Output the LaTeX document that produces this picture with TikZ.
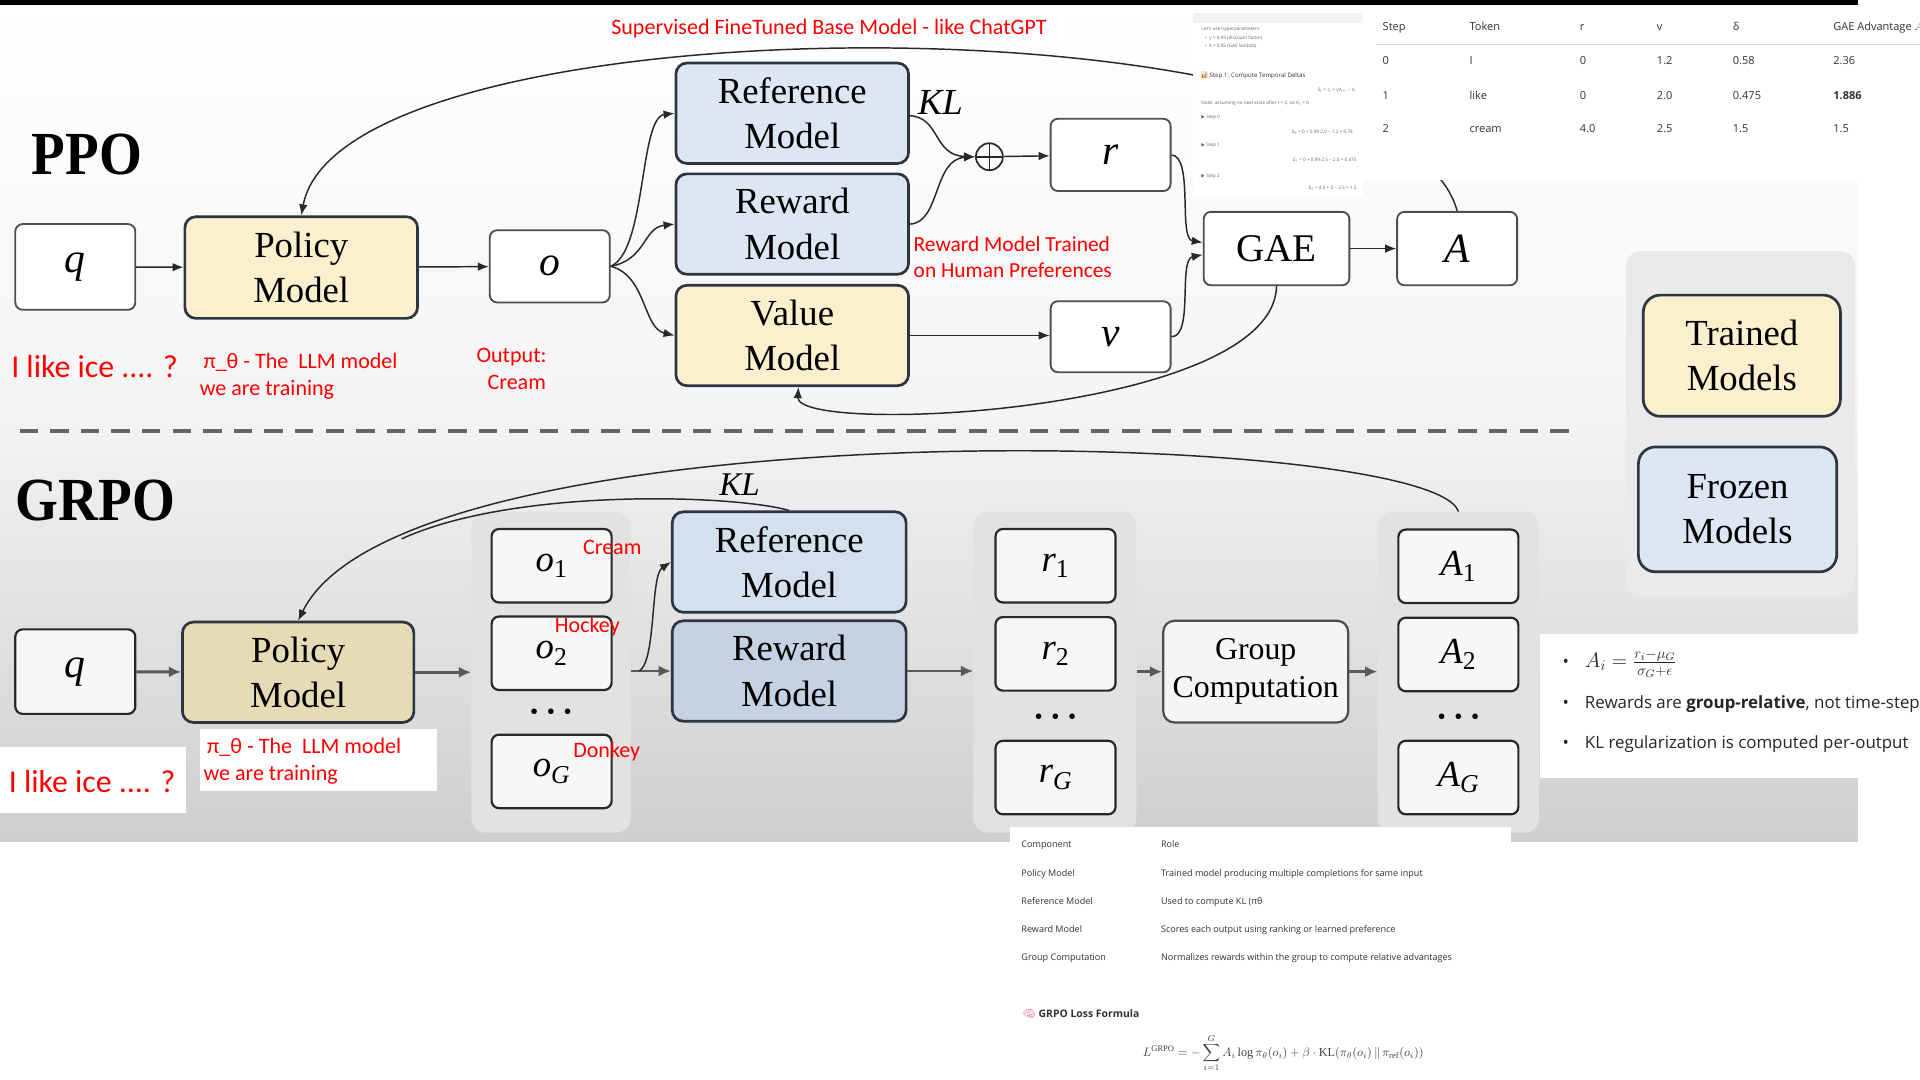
\documentclass[tikz,border=0pt]{standalone}
\usepackage{fontspec}
\usepackage{amsmath,amssymb}
\usepackage{xcolor}
\usetikzlibrary{arrows.meta}
\setmainfont{Liberation Serif}
\newfontfamily\titlefont[FakeStretch=0.9]{Liberation Serif}
\newfontfamily\notefont{Carlito}
\newfontfamily\uifont{Open Sans}
\newfontfamily\symfont{DejaVu Sans}
\newfontfamily\emojifont{Noto Emoji}

\definecolor{tanfill}{RGB}{250,240,206}
\definecolor{tandark}{RGB}{229,219,181}
\definecolor{bluefill}{RGB}{221,231,243}
\definecolor{bluemid}{RGB}{213,224,238}
\definecolor{bluedark}{RGB}{196,210,228}
\definecolor{boxline}{RGB}{45,52,66}
\definecolor{plainline}{RGB}{78,78,78}
\definecolor{arrowline}{RGB}{40,40,40}
\definecolor{colgrey}{RGB}{226,226,226}
\definecolor{legendgrey}{RGB}{234,234,234}
\definecolor{notered}{RGB}{255,0,0}
\definecolor{uitext}{RGB}{50,50,50}
\definecolor{brainpink}{RGB}{232,130,150}

\newcommand\varsub[2]{#1\textsubscript{#2}}

\tikzset{
  model/.style={rounded corners=9pt, draw=boxline, line width=2.2pt, minimum width=190pt, minimum height=82pt, inner sep=0pt, align=center, font=\fontsize{30}{37}\selectfont},
  plainbox/.style={rounded corners=6pt, draw=plainline, line width=1.5pt, fill=white, minimum width=98pt, minimum height=60pt, inner sep=0pt, font=\fontsize{34}{34}\selectfont\itshape},
  smallbox/.style={plainbox, draw=arrowline, line width=1.8pt, fill=black!3, font=\fontsize{30}{30}\selectfont\itshape},
  colbg/.style={rounded corners=12pt, fill=colgrey, minimum width=130pt, minimum height=262pt},
  conn/.style={draw=arrowline, line width=1.2pt, -{Latex[length=9pt,width=7pt]}},
  thickconn/.style={draw=black!65, line width=2.4pt, -{Latex[length=10pt,width=9pt]}},
  note/.style={text=notered, font=\notefont\fontsize{18}{22}\selectfont, inner sep=0pt, align=left, anchor=west},
  tinylabel/.style={text=black!60, font=\uifont\fontsize{3.8}{4.2}\selectfont, inner sep=0pt, anchor=west},
  dotrow/.style={inner sep=0pt, font=\fontsize{19}{19}\selectfont},
  bulletline/.style={anchor=west, inner sep=0pt, text=black!85, font=\uifont\fontsize{13.8}{16}\selectfont},
  sumsign/.style={circle, draw=arrowline, line width=1.4pt, minimum size=22pt, inner sep=0pt,
    path picture={\draw[arrowline, line width=1.4pt] (path picture bounding box.north) -- (path picture bounding box.south) (path picture bounding box.west) -- (path picture bounding box.east);}},
}

\begin{document}
\begin{tikzpicture}[x=1pt,y=-1pt]
\useasboundingbox (0,0) rectangle (1568,882);
\fill[white] (0,0) rectangle (1568,882);
\shade[top color=white, bottom color=black!4] (0,0) rectangle (1517,330);
\shade[top color=black!4, bottom color=black!19] (0,330) rectangle (1517,687);
\fill[black] (0,0) rectangle (1517,4);

\node[rounded corners=12pt, fill=legendgrey, minimum width=187pt, minimum height=282pt] (legendbg) at (1421.5,346) {};
\node[model, fill=tanfill, minimum width=161pt, minimum height=99pt, rounded corners=14pt] (trainedkey) at (1422.5,290.5) {Trained\\Models};
\node[model, fill=bluefill, minimum width=162pt, minimum height=102pt, rounded corners=14pt] (frozenkey) at (1419,416) {Frozen\\Models};

\node[colbg] (ocol) at (450,549) {};
\node[colbg, minimum width=133pt] (rcol) at (861.5,549) {};
\node[colbg, minimum width=132pt] (acol) at (1191,549) {};

\node[font=\titlefont\bfseries\fontsize{50}{50}\selectfont, inner sep=0pt] (ppotitle) at (71,126) {PPO};
\node[plainbox, minimum height=70pt] (q) at (61.5,218) {q};
\node[model, fill=tanfill, minimum height=83pt] (policy) at (246,218.5) {Policy\\Model};
\node[plainbox, minimum height=59pt] (o) at (449,217.5) {o};
\node[model, fill=bluefill] (ref) at (647,92.5) {Reference\\Model};
\node[model, fill=bluefill] (rew) at (647,183) {Reward\\Model};
\node[model, fill=tanfill] (val) at (647,274) {Value\\Model};
\node[font=\fontsize{30}{30}\selectfont\itshape, inner sep=0pt] (kl) at (768,84) {KL};
\node[sumsign] (plus) at (808,128) {};
\node[plainbox, minimum height=59pt] (r) at (907,126.5) {r};
\node[plainbox, minimum height=58pt] (v) at (907,275) {v};
\node[plainbox, minimum width=119pt, font=\fontsize{32}{32}\selectfont] (gae) at (1042.5,203) {GAE};
\node[plainbox] (adv) at (1190,203) {A};

\draw[conn] (q) -- (policy);
\draw[conn] (policy) -- (o);
\draw[conn] (o.east) .. controls (528,205) and (522,96) .. (ref.west);
\draw[conn] (o.east) .. controls (528,212) and (525,186) .. (rew.west);
\draw[conn] (o.east) .. controls (528,225) and (525,268) .. (val.west);
\draw[conn] ([yshift=-2pt]ref.east) .. controls (768,96) and (762,127) .. (plus.west);
\draw[conn] (rew.east) .. controls (768,182) and (762,130) .. (plus.west);
\draw[conn] (plus) -- (r);
\draw[conn] (val.east) -- (val.east -| v.west);
\draw[conn] (r.east) .. controls (975,128) and (962,195) .. ([yshift=5pt]gae.west);
\draw[conn] (v.east) .. controls (975,275) and (962,212) .. ([yshift=-5pt]gae.west);
\draw[conn] (gae) -- (adv);
\draw[conn] (gae.south) .. controls (1040,338) and (650,356) .. ([xshift=5pt]val.south);
\draw[conn] (adv.north) .. controls (1142,-5) and (280,-4) .. (policy.north);

\draw[black!60, line width=3.5pt, dash pattern=on 15pt off 10pt] (16,352) -- (1284,352);

\node[font=\titlefont\bfseries\fontsize{50}{50}\selectfont, inner sep=0pt] (grpotitle) at (78,409) {GRPO};
\node[smallbox, minimum height=69pt, font=\fontsize{34}{34}\selectfont\itshape] (q2) at (61.5,548.5) {q};
\node[model, fill=tandark, minimum width=189pt] (policy2) at (243.5,549) {Policy\\Model};
\node[smallbox] (o1) at (450.5,462) {\varsub{o}{\upshape 1}};
\node[smallbox] (o2) at (450.5,533.5) {\varsub{o}{\upshape 2}};
\node[dotrow] (odots) at (450,583) {\textbullet\hspace{7pt}\textbullet\hspace{7pt}\textbullet};
\node[smallbox] (oG) at (450.5,630) {\varsub{o}{G}};
\node[model, fill=bluemid, minimum width=191pt] (ref2) at (644.5,459) {Reference\\Model};
\node[model, fill=bluedark, minimum width=191pt] (rew2) at (644.5,548) {Reward\\Model};
\node[smallbox] (r1) at (862,462) {\varsub{r}{\upshape 1}};
\node[smallbox] (r2) at (862,534) {\varsub{r}{\upshape 2}};
\node[dotrow] (rdots) at (862,587) {\textbullet\hspace{7pt}\textbullet\hspace{7pt}\textbullet};
\node[smallbox] (rG) at (862,635) {\varsub{r}{G}};
\node[model, fill=black!4, draw=plainline, line width=1.8pt, minimum width=151pt, minimum height=83pt, font=\fontsize{26}{31}\selectfont] (group) at (1025.5,548.5) {Group\\Computation};
\node[smallbox] (a1) at (1191,462.5) {\varsub{A}{\upshape 1}};
\node[smallbox] (a2) at (1191,534.5) {\varsub{A}{\upshape 2}};
\node[dotrow] (adots) at (1191,587) {\textbullet\hspace{7pt}\textbullet\hspace{7pt}\textbullet};
\node[smallbox] (aG) at (1191,635) {\varsub{A}{G}};
\node[font=\fontsize{27}{27}\selectfont\itshape, inner sep=0pt] (kl2) at (604,396) {KL};
\coordinate (osplit) at (522,548);

\draw[thickconn] (q2) -- (policy2);
\draw[thickconn] (policy2.east) -- (policy2.east -| ocol.west);
\draw[thickconn] (ocol.east |- rew2.west) -- (rew2.west);
\draw[conn] (osplit) .. controls (536,540) and (531,470) .. (ref2.west);
\draw[thickconn] (rew2.east) -- (rew2.east -| rcol.west);
\draw[thickconn] (rcol.east |- group.west) -- (group.west);
\draw[thickconn] (group.east) -- (group.east -| acol.west);
\draw[conn] (acol.north) .. controls (1170,350) and (330,330) .. (policy2.north) coordinate[pos=0.85] (klmerge);
\draw[draw=arrowline, line width=1.2pt] (ref2.north) .. controls (600,404) and (420,398) .. (klmerge);

\fill[white] (974,17) rectangle (1113,161);
\fill[black!5] (974,11) rectangle (1113,19);
\fill[white] (1113,5) rectangle (1568,147);

\node[tinylabel] (hyp) at (981,24) {Let's use hyperparameters:};
\node[tinylabel] (gam) at (984,31) {•\ \ γ = 0.99 (discount factor)};
\node[tinylabel] (lam) at (984,38) {•\ \ λ = 0.95 (GAE lambda)};
\node[tinylabel, text=black!80, font=\uifont\fontsize{5}{6}\selectfont] (step1) at (980,62) {{\emojifont\textcolor{orange!80!black}{📊}} Step 1: Compute Temporal Deltas};
\node[tinylabel, anchor=east] (deltaeq) at (1108,74) {δ\textsubscript{t} = r\textsubscript{t} + γV\textsubscript{t+1} − V\textsubscript{t}};
\node[tinylabel] (notev) at (981,84) {Note: assuming no next state after t = 2, so V\textsubscript{3} = 0};
\node[tinylabel] (s0) at (981,96) {{\symfont ▶} Step 0};
\node[tinylabel, anchor=east] (d0) at (1105,108) {δ\textsubscript{0} = 0 + 0.99·2.0 − 1.2 = 0.78};
\node[tinylabel] (s1) at (981,119) {{\symfont ▶} Step 1};
\node[tinylabel, anchor=east] (d1) at (1108,131) {δ\textsubscript{1} = 0 + 0.99·2.5 − 2.0 = 0.475};
\node[tinylabel] (s2) at (981,144) {{\symfont ▶} Step 2};
\node[tinylabel, anchor=east] (d2) at (1108,154) {δ\textsubscript{2} = 4.0 + 0 − 2.5 = 1.5};

\draw[black!15, line width=0.8pt] (1124,36) -- (1568,36);
\node[anchor=base west, inner sep=0pt, text=uitext, font=\uifont\fontsize{9}{10}\selectfont] (gaetable) at (1129,25)
  {\begin{tabular}[t]{@{}p{59pt}p{78pt}p{51pt}p{50pt}p{70pt}l@{}}
  Step & Token & r & v & δ & GAE Advantage $A_t$\\[18pt]
  0 & I & 0 & 1.2 & 0.58 & 2.36\\[18pt]
  1 & like & 0 & 2.0 & 0.475 & \textbf{1.886}\\[17pt]
  2 & cream & 4.0 & 2.5 & 1.5 & 1.5
  \end{tabular}};

\fill[white] (1258,518) rectangle (1568,635);
\node[bulletline] (bullet1) at (1276,542) {•\hspace{13pt}{\fontsize{18}{20}\selectfont$A_i = \frac{r_i-\mu_G}{\sigma_G+\epsilon}$}};
\node[bulletline] (bullet2) at (1276,575) {•\hspace{13pt}Rewards are \textbf{group-relative}, not time-step};
\node[bulletline] (bullet3) at (1276,608) {•\hspace{13pt}KL regularization is computed per-output};

\fill[white] (825,675) rectangle (1234,800);
\node[anchor=base west, inner sep=0pt, text=uitext, font=\uifont\fontsize{7.4}{8.4}\selectfont] (roletable) at (834,692.5)
  {\begin{tabular}[t]{@{}p{102pt}l@{}}
  Component & Role\\[14.6pt]
  Policy Model & Trained model producing multiple completions for same input\\[14.6pt]
  Reference Model & Used to compute KL (πθ\\[14.6pt]
  Reward Model & Scores each output using ranking or learned preference\\[14.6pt]
  Group Computation & Normalizes rewards within the group to compute relative advantages
  \end{tabular}};
\node[anchor=west, inner sep=0pt, text=uitext, font=\uifont\bfseries\fontsize{8.5}{10}\selectfont] (losstitle) at (835,828) {{\emojifont\textcolor{brainpink}{🧠}}\ GRPO Loss Formula};
\node[inner sep=0pt, text=black!75, font=\fontsize{10}{12}\selectfont] (lossformula) at (1048,860) {$\displaystyle L^{\mathrm{GRPO}} = -\sum_{i=1}^{G} A_i \log \pi_\theta(o_i) + \beta\cdot \mathrm{KL}(\pi_\theta(o_i)\,\|\,\pi_{\mathrm{ref}}(o_i))$};

\fill[white] (559,11) rectangle (871,34);
\node[note] (sftnote) at (499,23) {Supervised FineTuned Base Model - like ChatGPT};
\node[note, font=\notefont\fontsize{26}{30}\selectfont] (prompt) at (9,299) {I like ice .... ?};
\node[note] (policynote) at (163,307) {\hspace{3pt}π\_θ - The\ \ LLM model\\we are training};
\node[note] (outnote) at (389,301) {Output:\\\hspace{9pt}Cream};
\node[note, font=\notefont\fontsize{17.5}{22}\selectfont] (rmnote) at (746,210) {Reward Model Trained\\on Human Preferences};

\node[note] (o1note) at (476,447) {Cream};
\node[note] (o2note) at (453,512) {Hockey};
\node[note] (oGnote) at (468,614) {Donkey};
\fill[white] (0,610) rectangle (152,664);
\fill[white] (163,595) rectangle (357,646);
\node[note, font=\notefont\fontsize{26}{30}\selectfont] (prompt2) at (7,638) {I like ice .... ?};
\node[note] (policynote2) at (166,622) {\hspace{3pt}π\_θ - The\ \ LLM model\\we are training};

\end{tikzpicture}
\end{document}
